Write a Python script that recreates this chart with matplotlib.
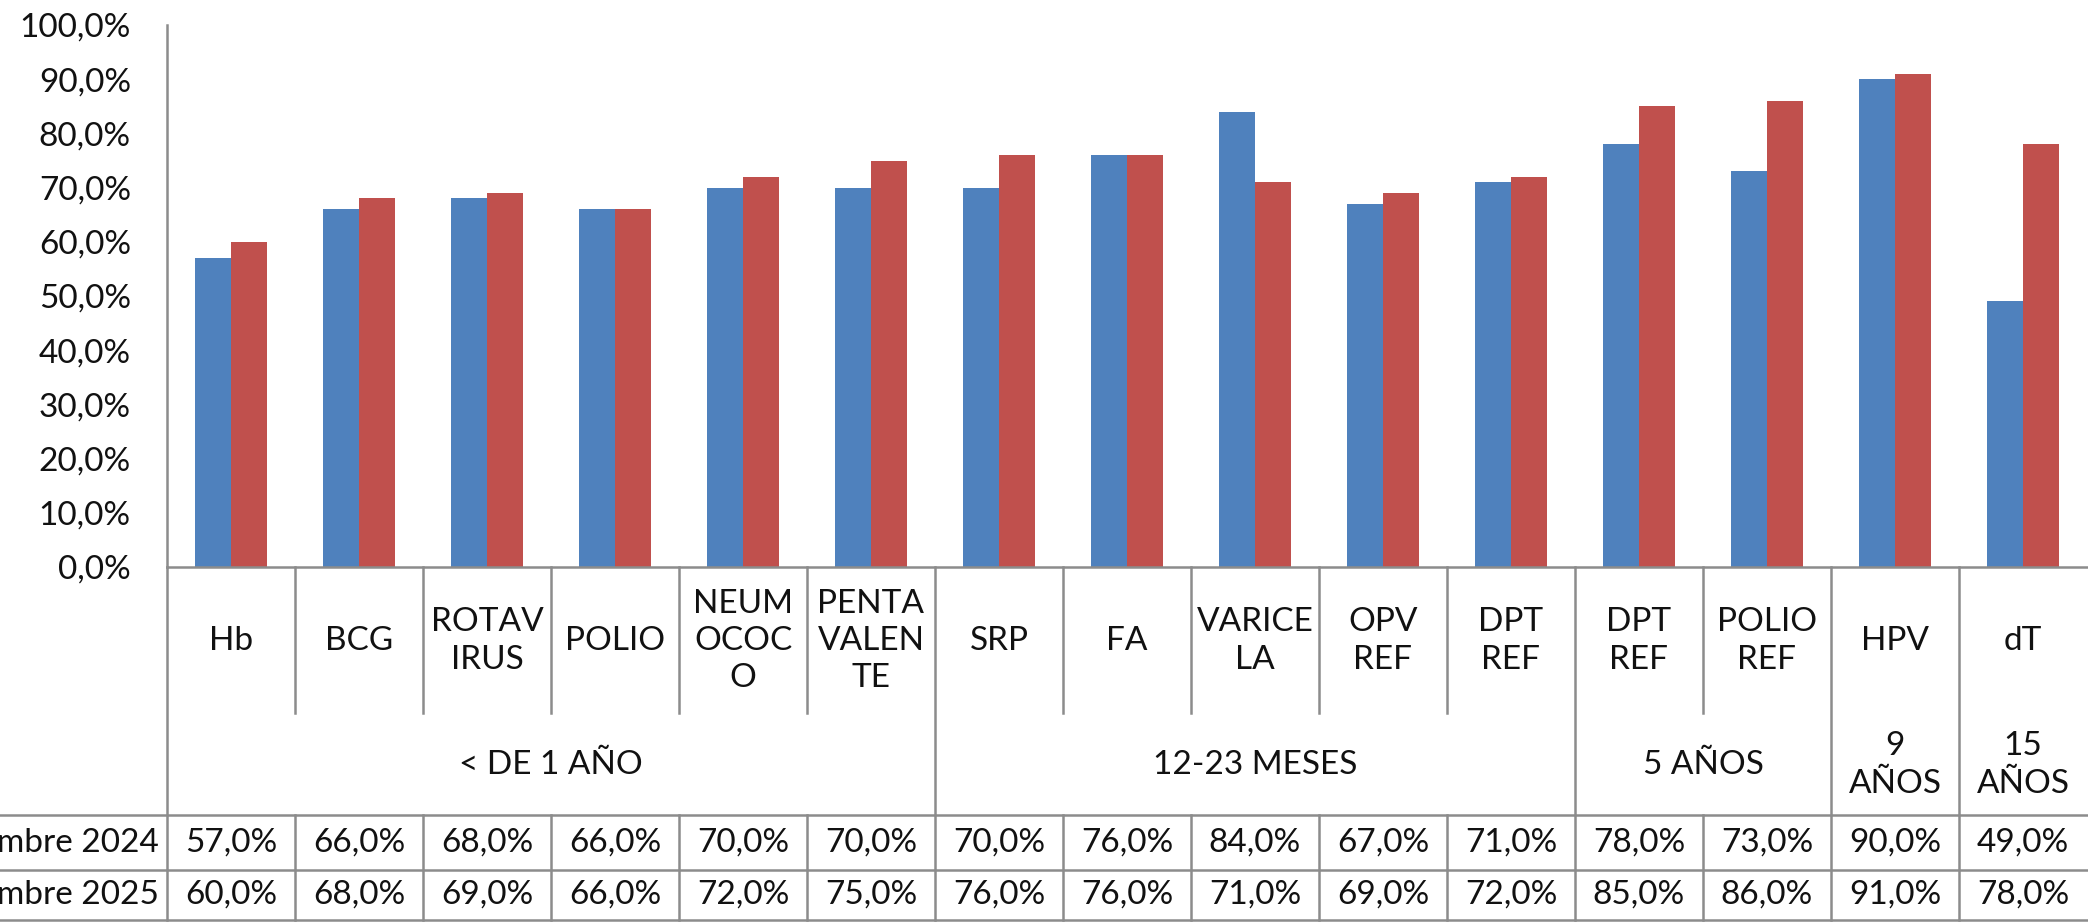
import numpy as np
import matplotlib.pyplot as plt
from matplotlib.ticker import FuncFormatter

plt.rcParams['font.family'] = ['Lato', 'DejaVu Sans']

vacunas = ["Hb", "BCG", "ROTAV\nIRUS", "POLIO", "NEUM\nOCOC\nO", "PENTA\nVALEN\nTE",
           "SRP", "FA", "VARICE\nLA", "OPV\nREF", "DPT\nREF",
           "DPT\nREF", "POLIO\nREF", "HPV", "dT"]
grupos = ["< DE 1 AÑO", "12-23 MESES", "5 AÑOS", "9\nAÑOS", "15\nAÑOS"]
grupo_n = [6, 5, 2, 1, 1]
serie_nombres = ["Septiembre 2024", "Septiembre 2025"]
v2024 = [57, 66, 68, 66, 70, 70, 70, 76, 84, 67, 71, 78, 73, 90, 49]
v2025 = [60, 68, 69, 66, 72, 75, 76, 76, 71, 69, 72, 85, 86, 91, 78]

W, H = 2088, 922
x0, x1 = 167, 2087          # pixel span of the category columns
y_top, y_zero = 25, 567     # pixel rows of 100% and 0%
gris = '#8c8c8c'
azul = '#4f81bd'
rojo = '#c0504d'
fs = 24

def pct(v, pos=None):
    return f"{v:.1f}%".replace('.', ',')

fig = plt.figure(figsize=(W / 100, H / 100), dpi=100)
ax = fig.add_axes([x0 / W, (H - y_zero) / H, (x1 - x0) / W, (y_zero - y_top) / H])

x = np.arange(len(vacunas))
bw = 0.28
ax.bar(x - bw / 2, v2024, bw, color=azul, label=serie_nombres[0])
ax.bar(x + bw / 2, v2025, bw, color=rojo, label=serie_nombres[1])
ax.set_xlim(-0.5, len(vacunas) - 0.5)
ax.set_ylim(0, 100)
ax.set_yticks(np.arange(0, 101, 10))
ax.yaxis.set_major_formatter(FuncFormatter(pct))
ax.tick_params(axis='y', length=0, pad=26, labelsize=fs, labelcolor='#111111')
ax.set_xticks([])
for s in ['top', 'right']:
    ax.spines[s].set_visible(False)
for s in ['left', 'bottom']:
    ax.spines[s].set_color(gris)
    ax.spines[s].set_linewidth(1.8)

# table below the chart, x in category units, y in pixels from the top
tab = fig.add_axes([x0 / W, 0, (x1 - x0) / W, 1])
tab.set_xlim(-0.5, len(vacunas) - 0.5)
tab.set_ylim(H, 0)
tab.axis('off')

y_cat, y_grp, y_r1, y_r2 = 713, 815, 870, 920
x_left = -0.5 - x0 / ((x1 - x0) / len(vacunas))
lk = dict(color=gris, lw=1.8, clip_on=False)

bordes = np.concatenate([[0], np.cumsum(grupo_n)])
for i in range(len(vacunas)):
    b = i - 0.5
    if i in bordes:
        tab.plot([b, b], [y_zero, y_r2], **lk)
    else:
        tab.plot([b, b], [y_zero, y_cat], **lk)
        tab.plot([b, b], [y_grp, y_r2], **lk)
for yy in [y_grp, y_r1, y_r2]:
    tab.plot([x_left, len(vacunas) - 0.5], [yy, yy], **lk)

tk = dict(ha='center', va='center', fontsize=fs, color='#111111',
          linespacing=1.3, clip_on=False)
for i, lab in enumerate(vacunas):
    tab.text(i, 641, lab, **tk)
for g, (a, b) in enumerate(zip(bordes[:-1], bordes[1:])):
    tab.text((a + b - 1) / 2, 765, grupos[g], **tk)
for i in range(len(vacunas)):
    tab.text(i, (y_grp + y_r1) / 2, pct(v2024[i]), **tk)
    tab.text(i, (y_r1 + y_r2) / 2, pct(v2025[i]), **tk)
# row labels run off the left edge, as in the original
for nombre, yy in zip(serie_nombres, [(y_grp + y_r1) / 2, (y_r1 + y_r2) / 2]):
    tab.text(-0.56, yy, nombre, ha='right', va='center', fontsize=fs,
             color='#111111', clip_on=False)

fig.savefig('out.png', dpi=100)
